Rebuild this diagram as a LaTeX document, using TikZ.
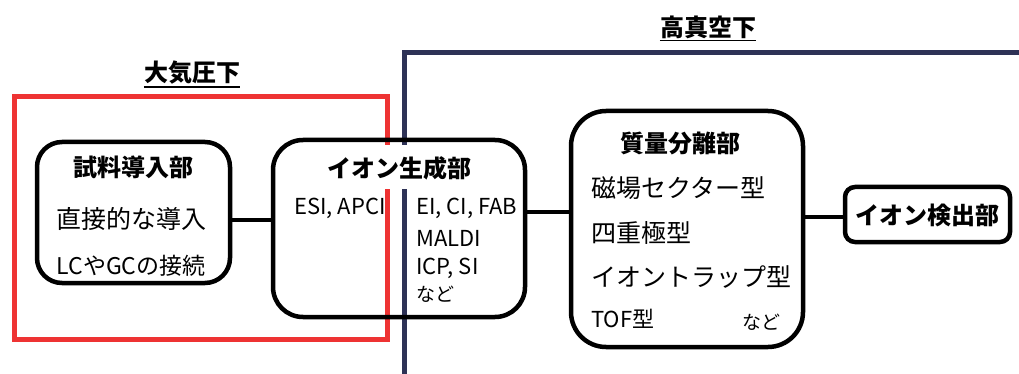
\documentclass[tikz,border=0pt]{standalone}
\usepackage{fontspec}
\setmainfont{Noto Sans CJK JP}
\definecolor{redline}{HTML}{EE3333}
\definecolor{navy}{HTML}{2E3256}
\begin{document}
\begin{tikzpicture}[x=1pt,y=-1pt,
  box/.style={draw=black,line width=4.5pt,inner sep=0pt},
  conn/.style={draw=black,line width=4.5pt},
  ttl/.style={font=\fontsize{24}{28}\selectfont\bfseries,inner sep=0pt},
  txt/.style={font=\fontsize{25}{29}\selectfont,inner sep=0pt},
  lat/.style={font=\fontsize{22}{26}\selectfont,inner sep=0pt},
  sml/.style={font=\fontsize{19}{22}\selectfont,inner sep=0pt},
  head/.style={font=\fontsize{24}{28}\selectfont\bfseries,inner sep=0pt},
  uline/.style={line width=1.6pt}]
\useasboundingbox (0,0) rectangle (1019,374);
% regions
\draw[redline,line width=5pt] (14,97) rectangle (387,339);
\draw[navy,line width=5pt] (404,374) -- (404,53) -- (1019,53);
% headings
\node[head] (h1) at (192,73) {大気圧下};
\draw[uline] ([yshift=-2pt]h1.south west) -- ([yshift=-2pt]h1.south east);
\node[head] (h2) at (708,27) {高真空下};
\draw[uline] ([yshift=-2pt]h2.south west) -- ([yshift=-2pt]h2.south east);
% sample box
\node[box,fill=white,rounded corners=25pt,minimum width=193pt,minimum height=141pt] (sample) at (133.5,212.5) {};
\node[ttl] (st) at (133.5,167) {試料導入部};
\node[txt] (s1) at (131,219) {直接的な導入};
\node[font=\fontsize{23}{27}\selectfont,inner sep=0pt] (s2) at (131,266) {LCやGCの接続};
% ion box
\node[fill=white,minimum width=200pt,minimum height=44pt,inner sep=0pt] (itbg) at (399,167) {};
\node[box,rounded corners=30pt,minimum width=252pt,minimum height=177pt] (ion) at (399,228.5) {};
\node[ttl] (it) at (399,168) {イオン生成部};
\node[lat,anchor=west] (i0) at (294,208) {ESI, APCI};
\node[lat,anchor=west] (i1) at (416,208) {EI, CI, FAB};
\node[lat,anchor=west] (i2) at (416,238) {MALDI};
\node[lat,anchor=west] (i3) at (416,268) {ICP, SI};
\node[sml,anchor=west] (i4) at (416,294) {など};
% mass box
\node[box,fill=white,rounded corners=35pt,minimum width=232pt,minimum height=236pt] (mass) at (687,229) {};
\node[ttl] (mt) at (680,143) {質量分離部};
\node[txt,anchor=west] (m1) at (591,188) {磁場セクター型};
\node[txt,anchor=west] (m2) at (591,233) {四重極型};
\node[txt,anchor=west] (m3) at (591,277) {イオントラップ型};
\node[lat,anchor=west] (m4) at (591,319) {TOF型};
\node[sml,anchor=east] (m5) at (781,322) {など};
% detector
\node[box,fill=white,rounded corners=10pt,minimum width=165pt,minimum height=55pt] (det) at (927.5,214.5) {};
\node[ttl] (dt) at (927.5,215) {イオン検出部};
% connectors
\draw[conn] ([yshift=-7.5pt]sample.east) -- ([yshift=-7.5pt]sample.east -| ion.west);
\draw[conn] ([yshift=16.5pt]ion.east) -- ([yshift=16.5pt]ion.east -| mass.west);
\draw[conn] ([yshift=-2.5pt]det.west) -- ([yshift=-2.5pt]det.west -| mass.east);
\end{tikzpicture}
\end{document}
